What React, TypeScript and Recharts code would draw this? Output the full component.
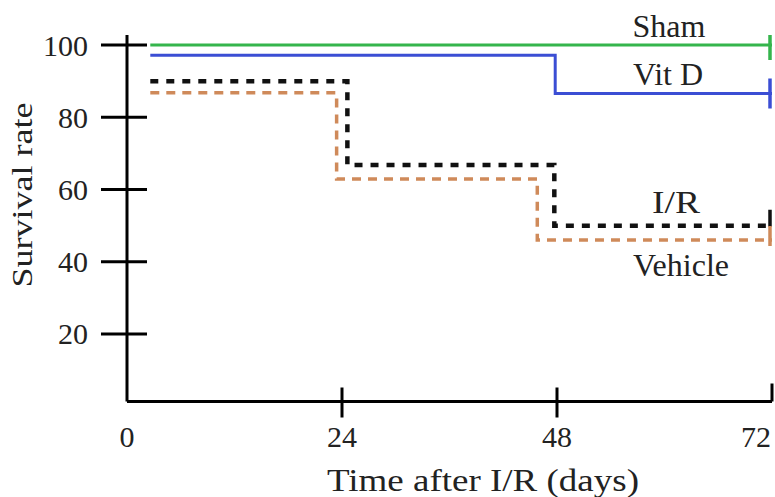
import { Line, LineChart, XAxis, YAxis } from "recharts";

// Kaplan-Meier style survival curves (step after each time point)
const shamTime = [2.6, 72];
const shamSurv = [100, 100];
const vitDTime = [2.6, 47.8, 72];
const vitDSurv = [97.2, 86.6, 86.6];
const irTime = [2.6, 24.6, 47.7, 72];
const irSurv = [90, 66.8, 50, 50];
const vehicleTime = [2.6, 23.4, 45.8, 72];
const vehicleSurv = [86.8, 62.9, 46, 46];

const xTicks = [0, 24, 48, 72];
const yTicks = [20, 40, 60, 80, 100];

const FONT = "'Liberation Serif', 'Times New Roman', serif";
const W = 775;
const H = 497;

const toPoints = (t: number[], s: number[]) => t.map((v, i) => ({ t: v, s: s[i] }));

const sham = toPoints(shamTime, shamSurv);
const vitD = toPoints(vitDTime, vitDSurv);
const ir = toPoints(irTime, irSurv);
const vehicle = toPoints(vehicleTime, vehicleSurv);

function YTick(props: any) {
  const { x, y, payload } = props;
  return (
    <g>
      <line x1={x - 26} x2={x + 20} y1={y} y2={y} stroke="#000" strokeWidth={3} />
      <text x={x - 39} y={y} dy="0.35em" textAnchor="end" fontFamily={FONT} fontSize={30} fill="#222">
        {payload.value}
      </text>
    </g>
  );
}

function XTick(props: any) {
  const { x, y, payload } = props;
  const v = payload.value;
  const last = v === 72;
  return (
    <g>
      {v !== 0 && (
        <line x1={x} x2={x} y1={y - (last ? 18 : 14)} y2={last ? y : y + 16} stroke="#000" strokeWidth={3} />
      )}
      <text x={last ? x - 16 : x} y={y + 45} textAnchor="middle" fontFamily={FONT} fontSize={30} fill="#222">
        {v}
      </text>
    </g>
  );
}

// censor mark at the end of each curve
const endMark = (n: number, color: string, up: number, down: number) => (props: any) => {
  const { cx, cy, index } = props;
  if (index !== n - 1) return <g key={`d${index}`} />;
  return <line key={`d${index}`} x1={cx - 2} x2={cx - 2} y1={cy - up} y2={cy + down} stroke={color} strokeWidth={3.5} />;
};

export default function App() {
  return (
    <div style={{ position: "absolute", left: 0, top: 0, width: W, height: H, background: "#fff" }}>
      <LineChart width={W} height={H} margin={{ top: 35, right: 3, bottom: 0, left: 0 }}>
        <XAxis
          dataKey="t"
          type="number"
          domain={[0, 72]}
          ticks={xTicks}
          interval={0}
          height={95.5}
          tickSize={0}
          tickMargin={0}
          tickLine={false}
          tick={<XTick />}
          axisLine={{ stroke: "#000", strokeWidth: 3 }}
          allowDataOverflow
        />
        <YAxis
          type="number"
          domain={[1.3, 102.8]}
          ticks={yTicks}
          interval={0}
          width={127}
          tickSize={0}
          tickMargin={0}
          tickLine={false}
          tick={<YTick />}
          axisLine={{ stroke: "#000", strokeWidth: 3 }}
          allowDataOverflow
        />
        <Line data={sham} dataKey="s" type="stepAfter" stroke="#35b54c" strokeWidth={3}
          dot={endMark(sham.length, "#35b54c", 15, 15)} isAnimationActive={false} />
        <Line data={vitD} dataKey="s" type="stepAfter" stroke="#3b4ed4" strokeWidth={3}
          dot={endMark(vitD.length, "#3b4ed4", 15, 15)} isAnimationActive={false} />
        <Line data={ir} dataKey="s" type="stepAfter" stroke="#111" strokeWidth={4.5} strokeDasharray="8 8"
          dot={endMark(ir.length, "#111", 16, 1)} isAnimationActive={false} />
        <Line data={vehicle} dataKey="s" type="stepAfter" stroke="#cf8a5a" strokeWidth={3.5} strokeDasharray="9 7"
          dot={endMark(vehicle.length, "#cf8a5a", 14, 6)} isAnimationActive={false} />
      </LineChart>
      <svg width={W} height={H} style={{ position: "absolute", left: 0, top: 0, pointerEvents: "none" }}>
        <g fontFamily={FONT} fill="#222" fontSize={32}>
          <text x={669} y={37} textAnchor="middle">Sham</text>
          <text x={668} y={85} textAnchor="middle">Vit D</text>
          <text x={676} y={213} textAnchor="middle" textLength={48} lengthAdjust="spacingAndGlyphs">I/R</text>
          <text x={681} y={276} textAnchor="middle">Vehicle</text>
        </g>
        <text x={483} y={491} textAnchor="middle" fontFamily={FONT} fontSize={31} fill="#222"
          textLength={312} lengthAdjust="spacingAndGlyphs">
          Time after I/R (days)
        </text>
        <text transform="translate(32,195) rotate(-90)" x={0} y={0} textAnchor="middle" fontFamily={FONT}
          fontSize={29} fill="#222" textLength={185} lengthAdjust="spacingAndGlyphs">
          Survival rate
        </text>
      </svg>
    </div>
  );
}
